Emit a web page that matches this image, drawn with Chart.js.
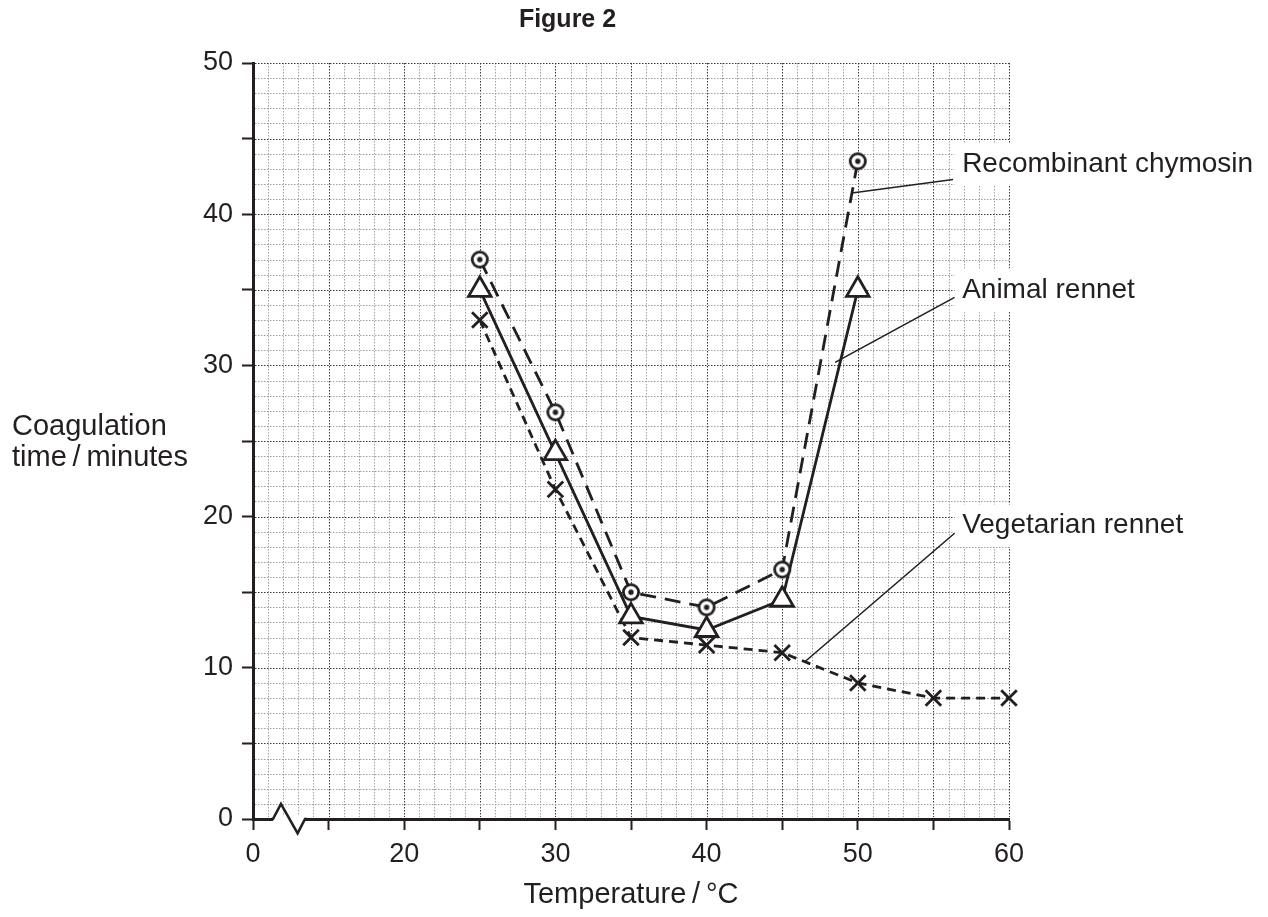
<!DOCTYPE html>
<html>
<head>
<meta charset="utf-8">
<title>Figure 2</title>
<script src="https://cdn.jsdelivr.net/npm/chart.js@4.4.1/dist/chart.umd.min.js"></script>
<style>
  html, body { margin: 0; padding: 0; background: #fff; }
</style>
</head>
<body>
<canvas id="coagChart" width="1268" height="917"></canvas>
<script>
// values
const temperatures = [25, 30, 35, 40, 45, 50, 55, 60];
const recombinantChymosin = [37, 26.9, 15, 14, 16.5, 43.5];
const animalRennet = [35, 24.2, 13.4, 12.5, 14.5, 35];
const vegetarianRennet = [33, 21.8, 12, 11.5, 11, 9, 8, 8];

// the x axis is broken: the first tick (value 10) is labelled 0
const xTickLabels = { 10: '0', 20: '20', 30: '30', 40: '40', 50: '50', 60: '60' };
const yTickLabels = { 0: '0', 10: '10', 20: '20', 30: '30', 40: '40', 50: '50' };
const seriesNames = ['Recombinant chymosin', 'Animal rennet', 'Vegetarian rennet'];

const ink = '#231f20';
const font = "'Liberation Sans', Arial, sans-serif";

// label placement + pointer lines, in data units
const callouts = [
  { text: seriesNames[0], at: [56.9, 43.3], from: [56.3, 42.3], to: [49.6, 41.4], box: [56.4, 44.7, 41.9] },
  { text: seriesNames[1], at: [56.9, 35.0], from: [56.4, 34.5], to: [48.5, 30.2], box: [56.4, 36.4, 33.6] },
  { text: seriesNames[2], at: [56.9, 19.4], from: [56.4, 18.9], to: [46.5, 10.4], box: [56.4, 20.8, 18.0] }
];

function ringDot() {
  const c = document.createElement('canvas');
  c.width = 24; c.height = 24;
  const g = c.getContext('2d');
  g.fillStyle = '#fff';
  g.strokeStyle = ink;
  g.lineWidth = 2.8;
  g.beginPath(); g.arc(12, 12, 7.6, 0, Math.PI * 2); g.fill(); g.stroke();
  g.fillStyle = ink;
  g.beginPath(); g.arc(12, 12, 2.7, 0, Math.PI * 2); g.fill();
  return c;
}

const toPoints = vals => vals.map((v, i) => ({ x: temperatures[i], y: v }));

function seg(ctx, x1, y1, x2, y2) {
  ctx.beginPath(); ctx.moveTo(x1, y1); ctx.lineTo(x2, y2); ctx.stroke();
}

const paperGrid = {
  id: 'paperGrid',
  beforeDatasetsDraw(chart) {
    const { ctx, chartArea: a, scales: { x, y } } = chart;
    ctx.save();
    ctx.lineWidth = 1;
    ctx.setLineDash([1.5, 1.5]);
    for (let v = 11; v <= 60; v++) {
      const px = Math.round(x.getPixelForValue(v)) + 0.5;
      ctx.strokeStyle = v % 5 === 0 ? '#3a3a3a' : '#a0a0a0';
      seg(ctx, px, a.top, px, a.bottom - 2);
    }
    for (let v = 1; v <= 50; v++) {
      const py = Math.round(y.getPixelForValue(v)) + 0.5;
      ctx.strokeStyle = v % 5 === 0 ? '#3a3a3a' : '#a0a0a0';
      seg(ctx, a.left + 2, py, a.right, py);
    }
    ctx.setLineDash([]);

    // axis break zigzag
    const y0 = y.getPixelForValue(0);
    ctx.fillStyle = '#fff';
    ctx.fillRect(x.getPixelForValue(11.32), y0 - 3, x.getPixelForValue(13.44) - x.getPixelForValue(11.32), 6);
    ctx.strokeStyle = ink;
    ctx.lineWidth = 2.6;
    ctx.lineJoin = 'miter';
    ctx.beginPath();
    ctx.moveTo(x.getPixelForValue(11.2), y0);
    ctx.lineTo(x.getPixelForValue(11.32), y0);
    ctx.lineTo(x.getPixelForValue(11.85), y.getPixelForValue(1));
    ctx.lineTo(x.getPixelForValue(12.95), y.getPixelForValue(-0.95));
    ctx.lineTo(x.getPixelForValue(13.44), y0);
    ctx.lineTo(x.getPixelForValue(13.6), y0);
    ctx.stroke();

    // series labels with white boxes over the grid
    ctx.font = '28px ' + font;
    ctx.textBaseline = 'middle';
    ctx.textAlign = 'left';
    callouts.forEach(c => {
      const bx = x.getPixelForValue(c.box[0]);
      const by = y.getPixelForValue(c.box[1]);
      ctx.fillStyle = '#fff';
      ctx.fillRect(bx, by, a.right + 4 - bx, y.getPixelForValue(c.box[2]) - by);
      ctx.fillStyle = ink;
      ctx.fillText(c.text, x.getPixelForValue(c.at[0]), y.getPixelForValue(c.at[1]));
      ctx.strokeStyle = ink;
      ctx.lineWidth = 1.6;
      seg(ctx, x.getPixelForValue(c.from[0]), y.getPixelForValue(c.from[1]),
        x.getPixelForValue(c.to[0]), y.getPixelForValue(c.to[1]));
    });
    ctx.restore();
  },
  afterDraw(chart) {
    const { ctx } = chart;
    ctx.save();
    ctx.fillStyle = ink;
    ctx.textAlign = 'center';
    ctx.textBaseline = 'middle';
    ctx.font = 'bold 25px ' + font;
    ctx.fillText('Figure 2', chart.scales.x.getPixelForValue(30.8), 20);
    ctx.textAlign = 'left';
    ctx.textBaseline = 'alphabetic';
    ctx.font = '29px ' + font;
    ctx.fillText('Coagulation', 12, 435);
    ctx.fillText('time\u2009/\u2009minutes', 12, 466);
    ctx.restore();
  }
};

const ctx = document.getElementById('coagChart').getContext('2d');
const chart = new Chart(ctx, {
  type: 'line',
  data: {
    datasets: [
      {
        label: seriesNames[0],
        data: toPoints(recombinantChymosin),
        borderColor: ink,
        borderWidth: 2.8,
        borderDash: [16, 9],
        pointStyle: ringDot(),
        pointRadius: 8,
        tension: 0,
        clip: false
      },
      {
        label: seriesNames[1],
        data: toPoints(animalRennet),
        borderColor: ink,
        borderWidth: 2.8,
        pointStyle: 'triangle',
        pointRadius: 13,
        pointBorderWidth: 2.8,
        pointBorderColor: ink,
        pointBackgroundColor: '#fff',
        tension: 0,
        clip: false
      },
      {
        label: seriesNames[2],
        data: toPoints(vegetarianRennet),
        borderColor: ink,
        borderWidth: 2.8,
        borderDash: [9, 6],
        pointStyle: 'crossRot',
        pointRadius: 11,
        pointBorderWidth: 2.8,
        pointBorderColor: ink,
        tension: 0,
        clip: false
      }
    ]
  },
  options: {
    responsive: false,
    devicePixelRatio: 1,
    animation: false,
    layout: { padding: { top: 63, right: 259, left: 0, bottom: 0 } },
    plugins: {
      legend: { display: false },
      tooltip: { enabled: false },
      title: { display: false }
    },
    scales: {
      x: {
        type: 'linear',
        min: 10,
        max: 60,
        afterFit: s => { s.height = 98; },
        border: { color: ink, width: 3 },
        grid: { drawOnChartArea: false, tickLength: 11, tickColor: ink, tickWidth: 2 },
        ticks: {
          stepSize: 5,
          autoSkip: false,
          maxRotation: 0,
          padding: 8,
          color: ink,
          font: { family: font, size: 27 },
          callback: v => xTickLabels[v] ?? ''
        },
        title: {
          display: true,
          text: 'Temperature\u2009/\u2009°C',
          color: ink,
          font: { family: font, size: 29 },
          padding: { top: 4, bottom: 5 }
        }
      },
      y: {
        min: 0,
        max: 50,
        afterFit: s => { s.width = 253; },
        border: { color: ink, width: 3 },
        grid: { drawOnChartArea: false, tickLength: 11, tickColor: ink, tickWidth: 2 },
        ticks: {
          stepSize: 5,
          autoSkip: false,
          padding: 9,
          color: ink,
          font: { family: font, size: 27 },
          callback: v => yTickLabels[v] ?? ''
        }
      }
    }
  },
  plugins: [paperGrid]
});
</script>
</body>
</html>
